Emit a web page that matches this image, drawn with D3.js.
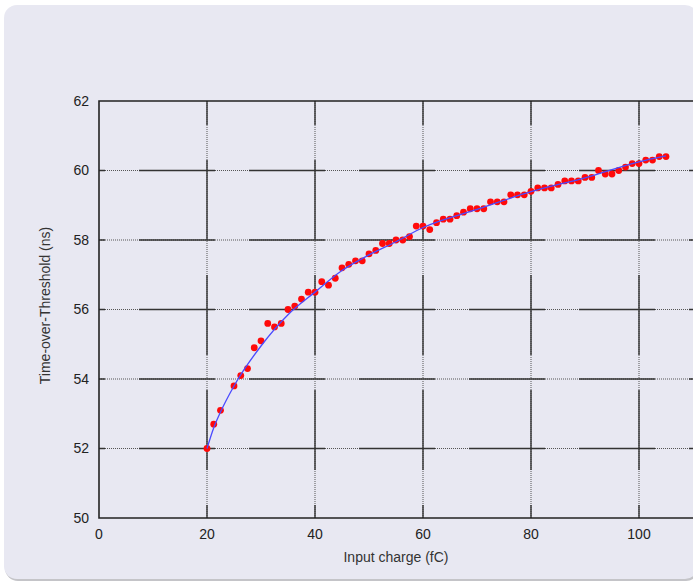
<!DOCTYPE html>
<html>
<head>
<meta charset="utf-8">
<script src="https://cdn.jsdelivr.net/npm/d3@7"></script>
<style>
  body { margin: 0; background: #fff; }
  svg { display: block; font-family: "Liberation Sans", Arial, sans-serif; }
</style>
</head>
<body>
<script>
// measured points (input charge in fC, ToT in ns)
const charge = [20, 21.25, 22.5, 25, 26.25, 27.5, 28.75, 30, 31.25, 32.5, 33.75, 35, 36.25, 37.5,
  38.75, 40, 41.25, 42.5, 43.75, 45, 46.25, 47.5, 48.75, 50, 51.25, 52.5, 53.75, 55, 56.25,
  57.5, 58.75, 60, 61.25, 62.5, 63.75, 65, 66.25, 67.5, 68.75, 70, 71.25, 72.5, 73.75, 75,
  76.25, 77.5, 78.75, 80, 81.25, 82.5, 83.75, 85, 86.25, 87.5, 88.75, 90, 91.25, 92.5, 93.75,
  95, 96.25, 97.5, 98.75, 100, 101.25, 102.5, 103.75, 105];
const tot = [52.0, 52.7, 53.1, 53.8, 54.1, 54.3, 54.9, 55.1, 55.6, 55.5, 55.6, 56.0, 56.1, 56.3,
  56.5, 56.5, 56.8, 56.7, 56.9, 57.2, 57.3, 57.4, 57.4, 57.6, 57.7, 57.9, 57.9, 58.0, 58.0,
  58.1, 58.4, 58.4, 58.3, 58.5, 58.6, 58.6, 58.7, 58.8, 58.9, 58.9, 58.9, 59.1, 59.1, 59.1,
  59.3, 59.3, 59.3, 59.4, 59.5, 59.5, 59.5, 59.6, 59.7, 59.7, 59.7, 59.8, 59.8, 60.0, 59.9,
  59.9, 60.0, 60.1, 60.2, 60.2, 60.3, 60.3, 60.4, 60.4];

// fitted curve
const fitCharge = [20, 21.25, 22.5, 25, 30, 35, 40, 45, 50, 55, 60, 70, 80, 90, 100, 105];
const fitTot = [52.0, 52.6, 53.05, 53.8, 54.95, 55.85, 56.5, 57.12, 57.57, 57.95, 58.36, 58.88, 59.39, 59.79, 60.25, 60.42];

const xTicks = [0, 20, 40, 60, 80, 100];
const yTicks = [50, 52, 54, 56, 58, 60, 62];

const W = 693, H = 583;
const svg = d3.select("body").append("svg").attr("width", W).attr("height", H);

// background panel
svg.append("rect").attr("x", 5).attr("y", 7).attr("width", 694).attr("height", 574)
  .attr("rx", 13).attr("fill", "#c4c4c8");
svg.append("rect").attr("x", 4).attr("y", 5).attr("width", 694).attr("height", 574)
  .attr("rx", 13).attr("fill", "#e8e8f2");

const x = d3.scaleLinear().domain([0, 120]).range([99, 747]);
const y = d3.scaleLinear().domain([50, 62]).range([518, 101]);

const g = svg.append("g");

// grid: dotted base + long solid dashes on top
const hLines = yTicks.filter(v => v > 50 && v < 62);
const vLines = [20, 40, 60, 80, 100, 120];

g.selectAll(".hdot").data(hLines).enter().append("line")
  .attr("x1", x(0)).attr("x2", x(120)).attr("y1", d => y(d)).attr("y2", d => y(d))
  .attr("stroke", "#555").attr("stroke-width", 1).attr("stroke-dasharray", "1 1");
g.selectAll(".hsolid").data(hLines).enter().append("line")
  .attr("x1", x(0)).attr("x2", x(120)).attr("y1", d => y(d)).attr("y2", d => y(d))
  .attr("stroke", "#333").attr("stroke-width", 1.4)
  .attr("stroke-dasharray", "76 34").attr("stroke-dashoffset", 70);

g.selectAll(".vdot").data(vLines).enter().append("line")
  .attr("x1", d => x(d)).attr("x2", d => x(d)).attr("y1", y(50)).attr("y2", y(62))
  .attr("stroke", "#555").attr("stroke-width", 1).attr("stroke-dasharray", "1 1");
g.selectAll(".vsolid").data(vLines).enter().append("line")
  .attr("x1", d => x(d)).attr("x2", d => x(d)).attr("y1", y(50)).attr("y2", y(62))
  .attr("stroke", "#333").attr("stroke-width", 1.4)
  .attr("stroke-dasharray", "80 35").attr("stroke-dashoffset", 67);

// frame
g.append("path")
  .attr("d", `M${x(120)},${y(62)}H${x(0)}V${y(50)}H${x(120)}`)
  .attr("fill", "none").attr("stroke", "#222").attr("stroke-width", 1.6);

// tick labels
g.selectAll(".ylab").data(yTicks).enter().append("text")
  .attr("x", 89).attr("y", d => y(d)).attr("dy", "0.35em")
  .attr("text-anchor", "end").attr("font-size", 14).attr("fill", "#222")
  .text(d => d);
g.selectAll(".xlab").data(xTicks).enter().append("text")
  .attr("x", d => x(d)).attr("y", 539)
  .attr("text-anchor", "middle").attr("font-size", 14).attr("fill", "#222")
  .text(d => d);

// axis titles
svg.append("text").attr("x", 396).attr("y", 562).attr("text-anchor", "middle")
  .attr("font-size", 14).attr("fill", "#333").text("Input charge (fC)");
svg.append("text").attr("transform", `translate(50,${(y(50) + y(62)) / 2 - 4}) rotate(-90)`)
  .attr("text-anchor", "middle").attr("font-size", 14).attr("fill", "#333")
  .text("Time-over-Threshold (ns)");

// data points
const pts = charge.map((c, i) => [c, tot[i]]);
g.selectAll(".pt").data(pts).enter().append("circle")
  .attr("cx", d => x(d[0])).attr("cy", d => y(d[1])).attr("r", 3.4)
  .attr("fill", "#ff0a0a");

// fit line
const fit = fitCharge.map((c, i) => [c, fitTot[i]]);
g.append("path").datum(fit)
  .attr("d", d3.line().x(d => x(d[0])).y(d => y(d[1])).curve(d3.curveMonotoneX))
  .attr("fill", "none").attr("stroke", "#4a4aff").attr("stroke-width", 1.3);
</script>
</body>
</html>
